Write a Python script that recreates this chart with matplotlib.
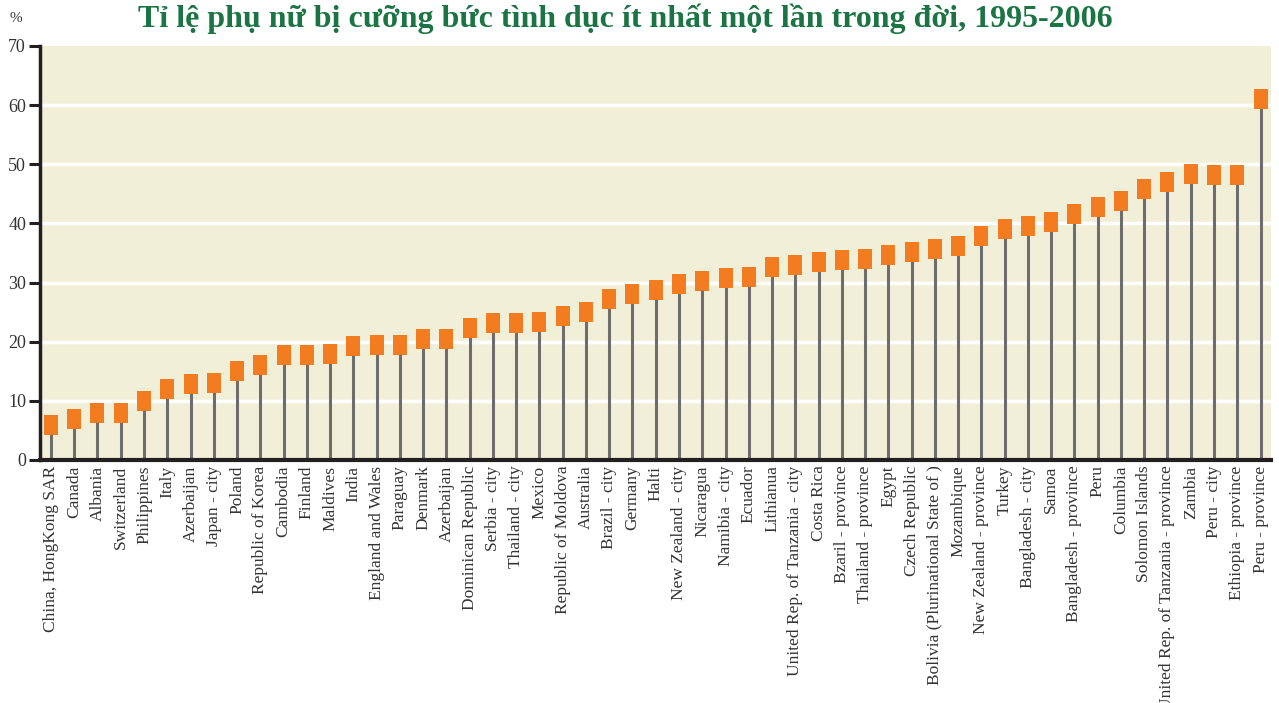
import matplotlib
matplotlib.use("Agg")
import matplotlib.pyplot as plt
import numpy as np

categories = [
    "China, HongKong SAR", "Canada", "Albania", "Switzerland", "Philippines", "Italy",
    "Azerbaijan", "Japan - city", "Poland", "Republic of Korea", "Cambodia", "Finland",
    "Maldives", "India", "England and Wales", "Paraguay", "Denmark", "Azerbaijan",
    "Dominican Republic", "Serbia - city", "Thailand - city", "Mexico",
    "Republic of Moldova", "Australia", "Brazil - city", "Germany", "Halti",
    "New Zealand - city", "Nicaragua", "Namibia - city", "Ecuador", "Lithianua",
    "United Rep. of Tanzania - city", "Costa Rica", "Bzaril - province",
    "Thailand - province", "Egypt", "Czech Republic", "Bolivia (Plurinational State of )",
    "Mozambique", "New Zealand - province", "Turkey", "Bangladesh - city", "Samoa",
    "Bangladesh - province", "Peru", "Columbia", "Solomon Islands",
    "United Rep. of Tanzania - province", "Zambia", "Peru - city",
    "Ethiopia - province", "Peru - province",
]
values = [
    6.0, 7.0, 8.0, 8.0, 10.0, 12.0, 12.8, 13.0, 15.0, 16.0,
    17.7, 17.7, 18.0, 19.2, 19.5, 19.5, 20.5, 20.5, 22.4, 23.2,
    23.2, 23.4, 24.4, 25.1, 27.3, 28.1, 28.8, 29.8, 30.2, 30.7,
    31.0, 32.7, 33.0, 33.4, 33.9, 34.0, 34.7, 35.2, 35.6, 36.1,
    37.8, 39.1, 39.6, 40.3, 41.6, 42.7, 43.8, 45.9, 47.0, 48.4,
    48.2, 48.2, 61.1,
]
y_ticks = [0, 10, 20, 30, 40, 50, 60, 70]
title = "Tỉ lệ phụ nữ bị cưỡng bức tình dục ít nhất một lần trong đời, 1995-2006"

plt.rcParams['font.family'] = ['Liberation Serif', 'DejaVu Serif']

fig = plt.figure(figsize=(12.79, 7.03), dpi=100)
ax = fig.add_axes([40/1279, 1 - 460/703, (1271-40)/1279, (460-46)/703])
ax.set_facecolor('#f2efd9')

x = np.arange(len(categories))
ax.vlines(x, 0, values, color='#6d6d6d', lw=2.2, zorder=3)
rect = [(-14, -19), (14, -19), (14, 19), (-14, 19), (-14, -19)]
ax.plot(x, values, ls='none', marker=rect, markersize=13.7,
        markerfacecolor='#f47c20', markeredgewidth=0, zorder=4)

ax.set_xlim(-0.47, len(categories) - 1 + 0.45)
ax.set_ylim(0, 70)
ax.set_yticks(y_ticks)
ax.set_yticklabels([str(t) for t in y_ticks], fontsize=13, color='#333333')
for t in y_ticks[1:-1]:
    ax.axhline(t, color='white', lw=2.5, zorder=1)

ax.set_xticks(x)
ax.set_xticklabels(categories, rotation=90, fontsize=12.5, color='#333333')
ax.tick_params(axis='x', length=0, pad=4)
ax.tick_params(axis='y', length=8, width=2.2, color='#231f20', pad=2)

for side in ['top', 'right']:
    ax.spines[side].set_visible(False)
ax.spines['left'].set_linewidth(2.5)
ax.spines['left'].set_color('#231f20')
ax.spines['bottom'].set_linewidth(3)
ax.spines['bottom'].set_color('#231f20')
ax.spines['left'].set_zorder(5)
ax.spines['bottom'].set_zorder(5)

fig.text(0.489, 0.974, title, ha='center', va='center', fontsize=23,
         fontweight='bold', color='#1b7443')
fig.text(0.0125, 0.974, "%", ha='center', va='center', fontsize=11, color='#333333')

fig.savefig("out.png", dpi=100)
